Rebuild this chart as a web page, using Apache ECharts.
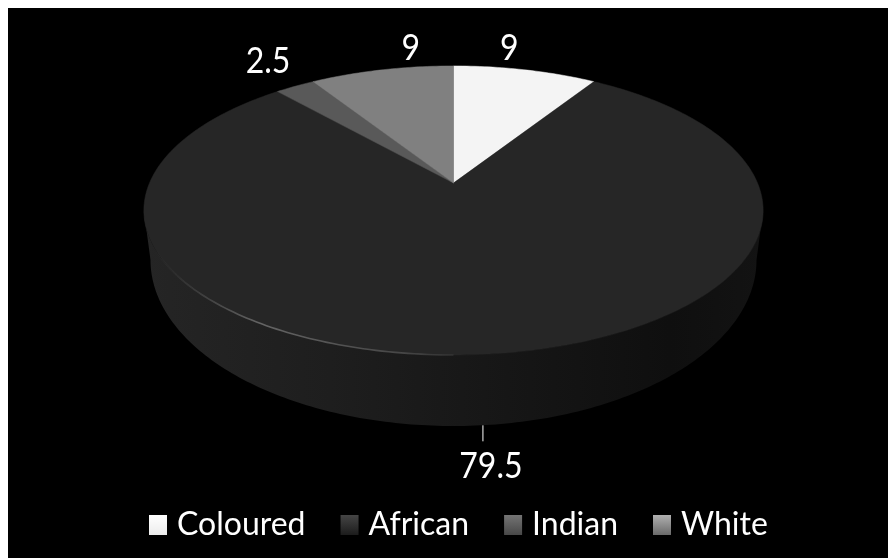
<!DOCTYPE html>
<html><head><meta charset="utf-8">
<style>
html,body{margin:0;padding:0;background:#fff;width:888px;height:558px;overflow:hidden}
#c{position:absolute;left:8px;top:8px;width:880px;height:550px;background:#000}
</style>
<script src="https://cdn.jsdelivr.net/npm/echarts@6/dist/echarts.min.js"></script>
</head><body><div id="c"></div>
<script>
const categories = ['Coloured', 'African', 'Indian', 'White'];
const values = [9, 79.5, 2.5, 9];
const labels = ['9', '79.5', '2.5', '9'];

// appearance
const sliceColors = ['#f4f4f4', '#262626', '#595959', '#808080'];
const legendTop = ['#ffffff', '#454545', '#747474', '#b0b0b0'];
const legendBottom = ['#ececec', '#1c1c1c', '#484848', '#6a6a6a'];
const labelNudge = [[-16, -22], [8, 112], [-27, -25], [29, -22]];
const FONT = 'Lato, sans-serif';

// tilted-disc projection, chart pixels
const CX = 445.5, APEX_Y = 175, RX = 304, RY = 139.3, K = -0.19;
const BASE_CY = 252, BASE_RX = 303, BASE_RY = 166;
const total = values.reduce((a, b) => a + b, 0);
function project(deg) {
  const r = deg * Math.PI / 180;
  const den = 1 - K * Math.cos(r);
  return [CX + RX * Math.sin(r) / den, APEX_Y - RY * Math.cos(r) / den];
}
function base(deg) {
  const r = deg * Math.PI / 180;
  return [CX + BASE_RX * Math.sin(r), BASE_CY - BASE_RY * Math.cos(r)];
}
function arc(fn, a, b) {
  const pts = [], n = Math.max(2, Math.ceil(Math.abs(b - a)));
  for (let i = 0; i <= n; i++) pts.push(fn(a + (b - a) * i / n));
  return pts;
}
function hGrad(stops, x0, x1) {
  return new echarts.graphic.LinearGradient(x0, 0, x1, 0, stops, true);
}
function makeItem(idx) {
  return function (params, api) {
    const v = api.value(0);
    const before = values.slice(0, idx).reduce((a, b) => a + b, 0);
    const a = before / total * 360, b = a + v / total * 360, mid = (a + b) / 2;
    const children = [];
    const wedge = [[CX, APEX_Y]].concat(arc(project, a, b));
    const wraps = a < 101 && b > 259;
    if (wraps) {
      const wall = arc(project, 101, 259).concat(arc(base, 270, 90));
      children.push({
        type: 'polygon', shape: { points: wall }, silent: true,
        style: { fill: hGrad([
          { offset: 0, color: '#252525' }, { offset: 0.3, color: '#1e1e1e' },
          { offset: 0.55, color: '#171717' }, { offset: 0.85, color: '#0f0f0f' },
          { offset: 1, color: '#131313' }], CX - 309, CX + 309) }
      });
    }
    children.push({ type: 'polygon', shape: { points: wedge }, silent: true,
      style: { fill: api.visual('color'), stroke: api.visual('color'), lineWidth: 0.5 } });
    if (wraps) {
      children.push({
        type: 'polyline', shape: { points: arc(project, 180, 262) }, silent: true,
        style: { fill: null, lineWidth: 1.6, stroke: hGrad([
          { offset: 0, color: 'rgba(100,100,100,0)' }, { offset: 0.3, color: 'rgba(100,100,100,1)' },
          { offset: 0.7, color: 'rgba(80,80,80,0.8)' }, { offset: 1, color: 'rgba(60,60,60,0)' }],
          CX - 300, CX + 60) }
      });
      const m = project(mid);
      children.push({ type: 'line', silent: true,
        shape: { x1: m[0], y1: m[1] + 71, x2: m[0], y2: m[1] + 87 },
        style: { stroke: '#fff', lineWidth: 1 } });
    }
    const p = project(mid);
    children.push({ type: 'text', silent: true, x: p[0] + labelNudge[idx][0], y: p[1] + labelNudge[idx][1],
      scaleY: 1.15,
      style: { text: labels[idx], fill: '#fff', font: '32px ' + FONT, align: 'center', verticalAlign: 'middle' } });
    return { type: 'group', children };
  };
}
const chart = echarts.init(document.getElementById('c'), null, { renderer: 'canvas' });
chart.setOption({
  animation: false,
  backgroundColor: '#000',
  legend: {
    left: 141, top: 501, padding: 0, itemWidth: 18, itemHeight: 20, itemGap: 35, selectedMode: false,
    textStyle: { color: '#fff', fontFamily: FONT, fontSize: 32, padding: [0, 0, 0, 5] },
    data: categories.map((c, i) => ({
      name: c, icon: 'rect',
      itemStyle: { color: new echarts.graphic.LinearGradient(0, 0, 0, 1, [
        { offset: 0, color: legendTop[i] }, { offset: 1, color: legendBottom[i] }]) }
    }))
  },
  series: categories.map((c, i) => ({
    type: 'custom', name: c, coordinateSystem: 'none', silent: true,
    itemStyle: { color: sliceColors[i] },
    renderItem: makeItem(i), data: [[values[i]]]
  }))
});
</script></body></html>
